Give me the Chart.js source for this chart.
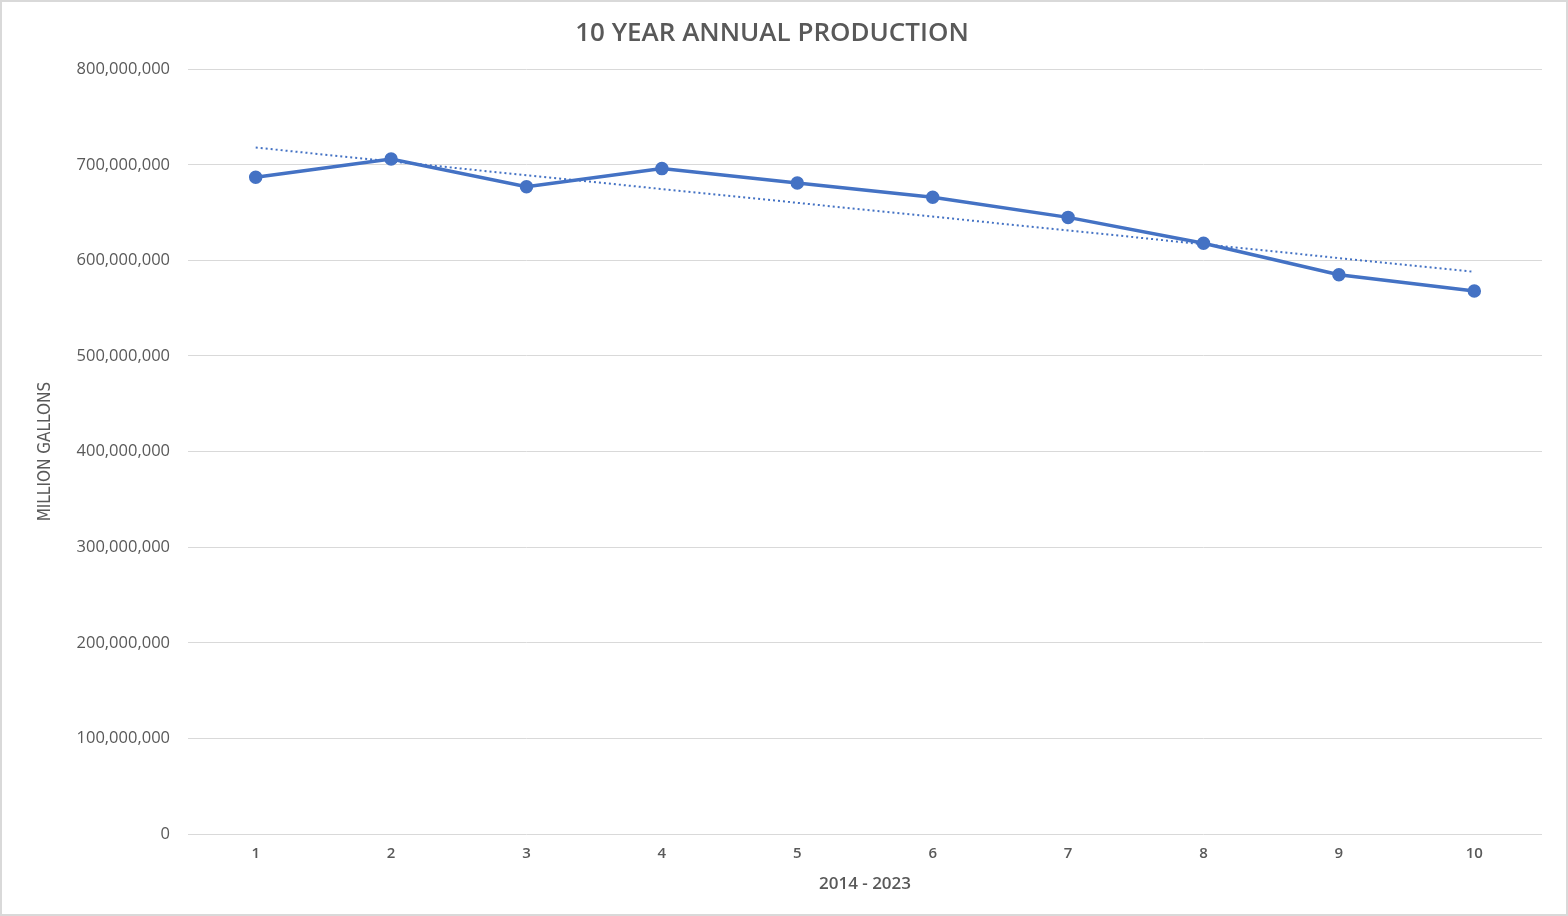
<!DOCTYPE html>
<html>
<head>
<meta charset="utf-8">
<script src="https://cdn.jsdelivr.net/npm/chart.js@4/dist/chart.umd.min.js"></script>
<style>
  html, body { margin: 0; padding: 0; background: #fff; }
  #wrap { width: 1564px; height: 912px; border: 2px solid #d9d9d9; position: relative; }
</style>
</head>
<body>
<div id="wrap"><canvas id="grafico"></canvas></div>
<script>
// dados
const anos = ['1', '2', '3', '4', '5', '6', '7', '8', '9', '10'];
const producao = [687000000, 706000000, 677000000, 696000000, 681000000, 666000000, 645000000, 618000000, 585000000, 568000000];
// linha de tendência (só as pontas, o resto fica vazio)
const tendencia = [718000000, null, null, null, null, null, null, null, null, 588000000];
const yMax = 800000000;
const yPasso = 100000000;

const azul = '#4472C4';
const cinza = '#595959';

const ctx = document.getElementById('grafico').getContext('2d');
new Chart(ctx, {
  type: 'line',
  data: {
    labels: anos,
    datasets: [
      {
        label: 'Produção',
        data: producao,
        borderColor: azul,
        backgroundColor: azul,
        borderWidth: 3.5,
        pointRadius: 5,
        pointBackgroundColor: azul,
        pointBorderColor: azul,
        tension: 0
      },
      {
        label: 'Tendência',
        data: tendencia,
        spanGaps: true,
        borderColor: azul,
        borderWidth: 2,
        borderDash: [2, 3],
        pointRadius: 0,
        fill: false
      }
    ]
  },
  options: {
    responsive: true,
    maintainAspectRatio: false,
    animation: false,
    layout: { padding: { left: 0, right: 24, top: 0, bottom: 20 } },
    plugins: {
      legend: { display: false },
      tooltip: { enabled: false },
      title: {
        display: true,
        text: '10 YEAR ANNUAL PRODUCTION',
        color: cinza,
        font: { family: 'Open Sans', size: 26, weight: '600' },
        padding: { top: 16, bottom: 20 }
      }
    },
    scales: {
      x: {
        offset: true,
        grid: { display: false, drawTicks: false },
        border: { display: false },
        ticks: { color: cinza, padding: 11, font: { family: 'Open Sans', size: 15, weight: '600' } },
        title: {
          display: true,
          text: '2014 - 2023',
          color: cinza,
          font: { family: 'Open Sans', size: 17, weight: '600' },
          padding: { top: 0, bottom: 0 }
        },
        afterFit: s => { s.height = 60; }
      },
      y: {
        min: 0,
        max: yMax,
        grid: { color: '#d9d9d9', lineWidth: 1, drawTicks: false },
        border: { display: false },
        ticks: {
          stepSize: yPasso,
          color: cinza,
          padding: 18,
          font: { family: 'Open Sans', size: 16.5 },
          callback: v => v.toLocaleString('en-US')
        },
        title: {
          display: true,
          text: 'MILLION GALLONS',
          color: cinza,
          font: { family: 'DejaVu Sans Condensed', size: 17 },
          padding: { top: 33, bottom: 0 }
        },
        afterFit: s => { s.width = 186; }
      }
    }
  }
});
</script>
</body>
</html>
